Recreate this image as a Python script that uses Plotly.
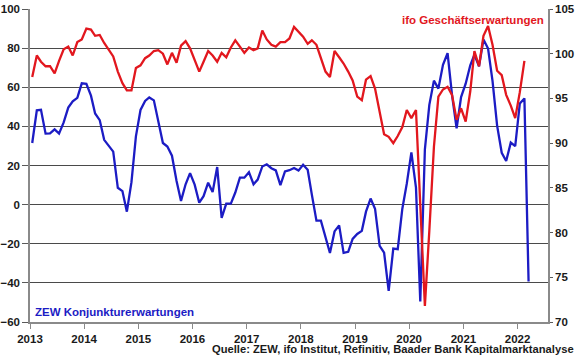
import pandas as pd
import plotly.graph_objects as go

# ZEW Konjunkturerwartungen (left axis), monthly from Jan 2013
zew = [31.5, 48.2, 48.5, 36.3, 36.4, 38.5, 36.3, 42.0, 49.6, 52.8, 54.6, 62.0,
       61.7, 55.7, 46.6, 43.2, 33.1, 29.8, 27.1, 8.6, 6.9, -3.6, 11.5, 34.9,
       48.4, 53.0, 54.8, 53.3, 41.9, 31.5, 29.7, 25.0, 12.1, 1.9, 10.4, 16.1,
       10.2, 1.0, 4.3, 11.2, 6.4, 19.2, -6.8, 0.5, 0.5, 6.2, 13.8, 13.8,
       16.6, 10.4, 12.8, 19.5, 20.6, 18.6, 17.5, 10.0, 17.0, 17.6, 18.7, 17.4,
       20.4, 17.8, 5.1, -8.2, -8.2, -16.1, -24.7, -13.7, -10.6, -24.7, -24.1, -17.5,
       -15.0, -13.4, -3.6, 3.1, -2.1, -21.1, -24.5, -44.1, -22.5, -22.8, -2.1, 10.7,
       26.7, 8.7, -49.5, 28.2, 51.0, 63.4, 59.3, 71.5, 77.4, 56.1, 39.0, 55.0,
       61.8, 71.2, 76.6, 70.7, 84.4, 79.8, 63.3, 40.4, 26.5, 22.3, 31.7, 29.9,
       51.7, 54.3, -39.3]

# ifo Geschäftserwartungen (right axis), monthly from Jan 2013
ifo = [97.4, 99.8, 99.1, 98.6, 98.6, 97.8, 99.2, 100.5, 100.8, 99.8, 101.3, 101.6,
       102.8, 102.7, 102.0, 102.1, 101.2, 100.4, 99.7, 98.0, 96.7, 95.9, 95.9, 98.4,
       98.7, 99.5, 99.8, 100.3, 100.4, 100.0, 98.8, 100.1, 99.0, 100.9, 101.4, 100.6,
       99.4, 98.0, 99.1, 100.3, 99.8, 99.1, 100.1, 99.6, 100.7, 101.5, 100.8, 100.1,
       100.7, 100.4, 100.6, 102.6, 101.6, 101.0, 100.8, 101.3, 101.3, 101.7, 103.0, 102.4,
       101.9, 101.1, 101.5, 101.0, 99.4, 98.0, 97.4, 100.3, 99.6, 98.9, 98.0, 97.0,
       95.2, 94.8, 97.1, 97.5, 96.1, 93.3, 91.0, 90.7, 90.0, 90.8, 91.8, 93.7,
       92.8, 93.7, 83.2, 71.8, 80.2, 89.6, 95.2, 96.0, 96.3, 95.4, 92.6, 93.9,
       92.4, 95.8, 100.3, 98.6, 102.0, 103.1, 101.0, 98.1, 97.6, 95.4, 94.2, 92.8,
       95.7, 99.2]

start_month = "2013-01-01"
left_ticks = [-60, -40, -20, 0, 20, 40, 60, 80, 100]
right_ticks = [70, 75, 80, 85, 90, 95, 100, 105]

dates_zew = pd.date_range(start_month, periods=len(zew), freq="MS") + pd.Timedelta(days=15)
dates_ifo = pd.date_range(start_month, periods=len(ifo), freq="MS") + pd.Timedelta(days=15)

RED = "#e2171e"
BLUE = "#1c1cc4"
TXT = "#1a1a1a"
FONT = "Liberation Sans"

fig = go.Figure()
fig.add_trace(go.Scatter(x=dates_zew, y=zew, mode="lines", name="ZEW Konjunkturerwartungen",
                         line=dict(color=BLUE, width=2.3), yaxis="y"))
fig.add_trace(go.Scatter(x=dates_ifo, y=ifo, mode="lines", name="ifo Geschäftserwartungen",
                         line=dict(color=RED, width=2.3), yaxis="y2"))

tickfont = dict(family=FONT, size=11.5, color=TXT, weight="bold")

fig.update_layout(
    template="none",
    width=580, height=359,
    margin=dict(l=30, r=32, t=9, b=37, autoexpand=False),
    paper_bgcolor="white", plot_bgcolor="white",
    showlegend=False,
    xaxis=dict(type="date", range=["2013-01-01", "2022-07-25"], automargin=False,
               tick0="2013-01-01", dtick="M12", tickformat="%Y",
               showgrid=False, showline=True, linecolor="#8a8a8a", linewidth=1.5,
               ticks="outside", ticklen=5, tickcolor="#8a8a8a",
               tickfont=tickfont, zeroline=False),
    yaxis=dict(range=[-60, 100], tickvals=left_ticks, automargin=False,
               showgrid=True, gridcolor="#4a4a4a", gridwidth=1,
               showline=True, linecolor="#8a8a8a", linewidth=1.5,
               ticks="outside", ticklen=6, tickcolor="#5a5a5a",
               tickfont=tickfont, zeroline=False),
    yaxis2=dict(range=[70, 105], tickvals=right_ticks, overlaying="y", side="right",
                automargin=False,
                showgrid=False, showline=True, linecolor="#8a8a8a", linewidth=1.5,
                ticks="outside", ticklen=3, tickcolor="#5a5a5a",
                tickfont=tickfont, zeroline=False),
)

fig.add_annotation(text="ZEW Konjunkturerwartungen", xref="paper", yref="y",
                   x=0.006, y=-54.7, xanchor="left", yanchor="middle", showarrow=False,
                   font=dict(family=FONT, size=11.5, color=BLUE, weight="bold"))
fig.add_annotation(text="ifo Geschäftserwartungen", xref="paper", yref="y",
                   x=0.996, y=94.5, xanchor="right", yanchor="middle", showarrow=False,
                   font=dict(family=FONT, size=11.5, color=RED, weight="bold"))
fig.add_annotation(text="Quelle: ZEW, ifo Institut, Refinitiv, Baader Bank Kapitalmarktanalyse",
                   xref="paper", yref="paper", x=1.054, y=-0.086,
                   xanchor="right", yanchor="middle", showarrow=False,
                   font=dict(family=FONT, size=11.2, color=TXT, weight="bold"))

fig.write_html("out.html", config={"displayModeBar": False},
               post_script="document.body.style.margin='0px';")
